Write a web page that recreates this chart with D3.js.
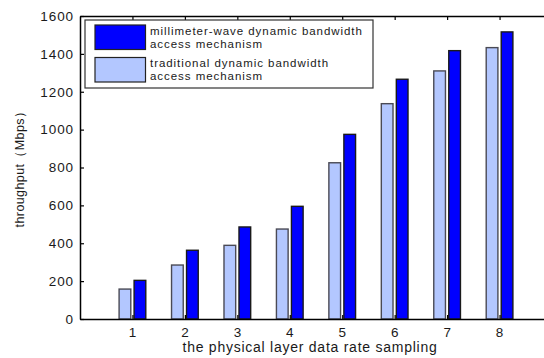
<!DOCTYPE html>
<html>
<head>
<meta charset="utf-8">
<script src="https://cdn.jsdelivr.net/npm/d3@7"></script>
<style>
  html, body { margin: 0; padding: 0; background: #fff; }
  svg { display: block; }
  text { font-family: "Liberation Sans", Arial, sans-serif; fill: #1a1a1a; }
</style>
</head>
<body>
<svg id="chart" width="544" height="358"></svg>
<script>
// Throughput per physical-layer data-rate sample
const categories = [1, 2, 3, 4, 5, 6, 7, 8];
const mmwaveValues = [204, 363, 486, 595, 975, 1266, 1417, 1516];
const traditionalValues = [158, 285, 389, 475, 825, 1137, 1310, 1433];
const yTicks = [0, 200, 400, 600, 800, 1000, 1200, 1400, 1600];
const seriesNames = [
  ["millimeter-wave dynamic bandwidth", "access mechanism"],
  ["traditional dynamic bandwidth", "access mechanism"]
];
const seriesColors = ["#0000ff", "#b3c7ff"];

const svg = d3.select("#chart");
const plotLeft = 80, plotRight = 552, plotTop = 16, plotBottom = 319;

const x = d3.scaleLinear().domain([0, 9]).range([plotLeft, plotRight]);
const y = d3.scaleLinear().domain([0, 1600]).range([plotBottom, plotTop]);

const barW = x(0.223) - x(0);
const offset = 0.143;

// bars: traditional on the left, millimeter-wave on the right
const groups = [
  { values: traditionalValues, color: seriesColors[1], dx: -offset, stroke: "#4a4a55" },
  { values: mmwaveValues, color: seriesColors[0], dx: offset, stroke: "#1a1a1a" }
];
groups.forEach(g => {
  svg.append("g").selectAll("rect")
    .data(categories)
    .join("rect")
    .attr("x", (c) => x(c + g.dx) - barW / 2)
    .attr("width", barW)
    .attr("y", (c, i) => y(g.values[i]))
    .attr("height", (c, i) => y(0) - y(g.values[i]))
    .attr("fill", g.color)
    .attr("stroke", g.stroke)
    .attr("stroke-width", 1.4);
});

// axes
const tickFont = "13.5px";
const xAxis = d3.axisBottom(x).tickValues(categories).tickSizeInner(-4).tickSizeOuter(0).tickPadding(8).tickFormat(d3.format("d"));
const gx = svg.append("g").attr("transform", `translate(0,${plotBottom})`).call(xAxis);
const xTop = d3.axisTop(x).tickValues(categories).tickSizeInner(-4).tickSizeOuter(0).tickFormat("");
const gt = svg.append("g").attr("transform", `translate(0,${plotTop})`).call(xTop);
const yAxis = d3.axisLeft(y).tickValues(yTicks).tickSizeInner(-4).tickSizeOuter(0).tickPadding(6).tickFormat(d3.format("d"));
const gy = svg.append("g").attr("transform", `translate(${plotLeft},0)`).call(yAxis);
const yRight = d3.axisRight(y).tickValues(yTicks).tickSizeInner(-4).tickSizeOuter(0).tickFormat("");
const gr = svg.append("g").attr("transform", `translate(${plotRight},0)`).call(yRight);

[gx, gt, gy, gr].forEach(g => {
  g.select(".domain").attr("stroke", "#000").attr("stroke-width", 1.5);
  g.selectAll(".tick line").attr("stroke", "#000").attr("stroke-width", 1.2);
  g.selectAll(".tick text").style("font-size", tickFont).attr("fill", "#1a1a1a")
    .style("letter-spacing", "0.9px")
    .style("font-family", "'Liberation Sans', Arial, sans-serif");
});

// axis titles
svg.append("text")
  .attr("x", 310).attr("y", 352)
  .attr("text-anchor", "middle")
  .style("font-size", "14px")
  .style("letter-spacing", "0.75px")
  .text("the physical layer data rate sampling");

svg.append("text")
  .attr("transform", "translate(24,166) rotate(-90)")
  .attr("text-anchor", "middle")
  .style("font-size", "12.5px")
  .style("letter-spacing", "0.4px")
  .text("throughput（Mbps）");

// legend
const lg = svg.append("g");
lg.append("rect")
  .attr("x", 85).attr("y", 20).attr("width", 288).attr("height", 68)
  .attr("fill", "#fff").attr("stroke", "#333").attr("stroke-width", 1.2);
const legendRows = [
  { color: seriesColors[0], y0: 25, lines: seriesNames[0], base: 35 },
  { color: seriesColors[1], y0: 57.5, lines: seriesNames[1], base: 67 }
];
legendRows.forEach(r => {
  lg.append("rect")
    .attr("x", 95).attr("y", r.y0).attr("width", 50.5).attr("height", 24.5)
    .attr("fill", r.color).attr("stroke", "#222").attr("stroke-width", 1.2);
  r.lines.forEach((t, i) => {
    lg.append("text")
      .attr("x", 150).attr("y", r.base + i * 12.5)
      .style("font-size", "11.5px")
      .style("letter-spacing", "0.95px")
      .text(t);
  });
});
</script>
</body>
</html>
